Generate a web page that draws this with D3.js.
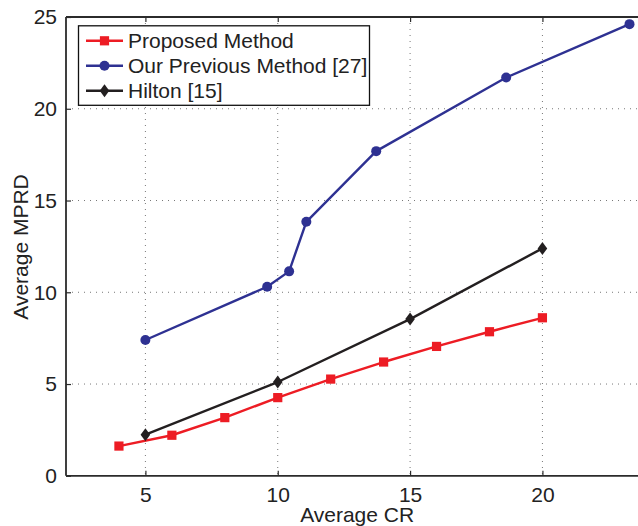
<!DOCTYPE html>
<html>
<head>
<meta charset="utf-8">
<script src="https://cdn.jsdelivr.net/npm/d3@7/dist/d3.min.js"></script>
<style>
  html, body { margin: 0; padding: 0; background: #fff; overflow: hidden; }
  svg { display: block; font-family: "Liberation Sans", Arial, Helvetica, sans-serif; }
</style>
</head>
<body>
<svg id="chart" width="638" height="526"></svg>
<script>
// ---- Data ----
const proposedX = [4, 6, 8, 10, 12, 14, 16, 18, 20];
const proposedY = [1.62, 2.21, 3.17, 4.26, 5.27, 6.20, 7.05, 7.85, 8.61];

const previousX = [5, 9.6, 10.43, 11.08, 13.72, 18.63, 23.29];
const previousY = [7.40, 10.30, 11.14, 13.84, 17.69, 21.70, 24.61];

const hiltonX = [5, 10, 15, 20];
const hiltonY = [2.24, 5.11, 8.54, 12.39];

const xTicks = [5, 10, 15, 20];
const yTicks = [0, 5, 10, 15, 20, 25];

const seriesNames = ["Proposed Method", "Our Previous Method [27]", "Hilton [15]"];
const xLabel = "Average CR";
const yLabel = "Average MPRD";

// ---- Layout ----
const svg = d3.select("#chart");
const pLeft = 66, pRight = 648.3, pTop = 17, pBottom = 475.8;
const x = d3.scaleLinear().domain([2, 24]).range([pLeft, pRight]);
const y = d3.scaleLinear().domain([0, 25]).range([pBottom, pTop]);

const colors = ["#ED1C24", "#2E3192", "#231F20"];
const fontSize = 21;

// grid
const grid = svg.append("g");
grid.selectAll("line.vx").data(xTicks).enter().append("line")
  .attr("x1", d => x(d)).attr("x2", d => x(d))
  .attr("y1", pTop).attr("y2", pBottom)
  .attr("stroke", "#777").attr("stroke-width", 1).attr("stroke-dasharray", "1,5");
grid.selectAll("line.hy").data(yTicks.filter(d => d > 0 && d < 25)).enter().append("line")
  .attr("x1", pLeft).attr("x2", pRight)
  .attr("y1", d => y(d)).attr("y2", d => y(d))
  .attr("stroke", "#777").attr("stroke-width", 1).attr("stroke-dasharray", "1,5");

// axes
const axisColor = "#2b2b2b";
const xAxis = d3.axisBottom(x).tickValues(xTicks).tickSize(-5).tickPadding(11).tickFormat(d3.format("d"));
const gx = svg.append("g").attr("transform", `translate(0,${pBottom})`).call(xAxis);
const xAxisTop = d3.axisTop(x).tickValues(xTicks).tickSize(-5).tickFormat("");
const gxt = svg.append("g").attr("transform", `translate(0,${pTop})`).call(xAxisTop);
const yAxis = d3.axisLeft(y).tickValues(yTicks).tickSize(-5).tickPadding(9).tickFormat(d3.format("d"));
const gy = svg.append("g").attr("transform", `translate(${pLeft},0)`).call(yAxis);

[gx, gxt, gy].forEach(g => {
  g.select(".domain").attr("stroke", axisColor).attr("stroke-width", 1.8);
  g.selectAll(".tick line").attr("stroke", axisColor).attr("stroke-width", 1.2);
  g.selectAll(".tick text").attr("fill", "#222").style("font-size", fontSize + "px")
    .style("font-family", '"Liberation Sans", Arial, sans-serif');
});
gx.select(".domain").attr("d", `M${pLeft},0H${pRight}`);
gxt.select(".domain").attr("d", `M${pLeft},0H${pRight}`);
gy.select(".domain").attr("d", `M0,${pTop}V${pBottom}`);

// series
const datasets = [
  { name: seriesNames[0], pts: proposedX.map((d, i) => [d, proposedY[i]]), color: colors[0], marker: "square" },
  { name: seriesNames[1], pts: previousX.map((d, i) => [d, previousY[i]]), color: colors[1], marker: "circle" },
  { name: seriesNames[2], pts: hiltonX.map((d, i) => [d, hiltonY[i]]), color: colors[2], marker: "diamond" }
];

const line = d3.line().x(d => x(d[0])).y(d => y(d[1]));

function drawMarker(g, type, cx, cy, color) {
  if (type === "square") {
    g.append("rect").attr("x", cx - 4.6).attr("y", cy - 4.6).attr("width", 9.2).attr("height", 9.2).attr("fill", color);
  } else if (type === "circle") {
    g.append("circle").attr("cx", cx).attr("cy", cy).attr("r", 5).attr("fill", color);
  } else {
    g.append("path").attr("d", `M${cx},${cy - 6.5}L${cx + 4.8},${cy}L${cx},${cy + 6.5}L${cx - 4.8},${cy}Z`).attr("fill", color);
  }
}

datasets.forEach(ds => {
  const g = svg.append("g");
  g.append("path").datum(ds.pts).attr("d", line).attr("fill", "none")
    .attr("stroke", ds.color).attr("stroke-width", 2.4).attr("stroke-linejoin", "round");
  ds.pts.forEach(p => drawMarker(g, ds.marker, x(p[0]), y(p[1]), ds.color));
});

// legend
const lg = svg.append("g");
lg.append("rect").attr("x", 78.5).attr("y", 25.8).attr("width", 291).attr("height", 79.5)
  .attr("fill", "#fff").attr("stroke", "#111").attr("stroke-width", 1.3);
datasets.forEach((ds, i) => {
  const cy = 40.8 + i * 25;
  lg.append("line").attr("x1", 86).attr("x2", 123).attr("y1", cy).attr("y2", cy)
    .attr("stroke", ds.color).attr("stroke-width", 2.4);
  drawMarker(lg, ds.marker, 104.5, cy, ds.color);
  lg.append("text").attr("x", 128).attr("y", cy).attr("dy", "0.36em")
    .attr("fill", "#222").style("font-size", fontSize + "px").text(ds.name);
});

// axis labels
svg.append("text").attr("x", (pLeft + pRight) / 2).attr("y", 521.7).attr("text-anchor", "middle")
  .attr("fill", "#222").style("font-size", fontSize + "px").text(xLabel);
svg.append("text").attr("transform", `translate(28,247) rotate(-90)`).attr("text-anchor", "middle")
  .attr("fill", "#222").style("font-size", fontSize + "px").text(yLabel);
</script>
</body>
</html>
